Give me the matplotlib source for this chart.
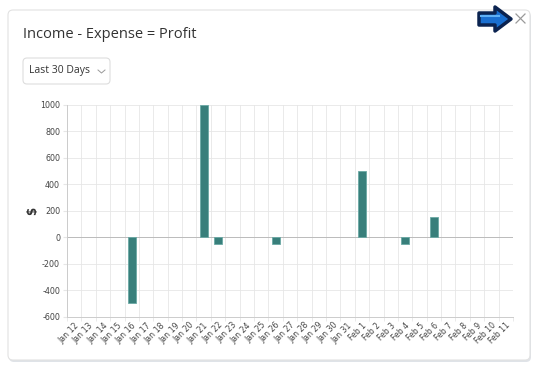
import matplotlib.pyplot as plt
from matplotlib.patches import FancyBboxPatch, Polygon
import numpy as np

dates = ["Jan 12", "Jan 13", "Jan 14", "Jan 15", "Jan 16", "Jan 17", "Jan 18",
         "Jan 19", "Jan 20", "Jan 21", "Jan 22", "Jan 23", "Jan 24", "Jan 25",
         "Jan 26", "Jan 27", "Jan 28", "Jan 29", "Jan 30", "Jan 31", "Feb 1",
         "Feb 2", "Feb 3", "Feb 4", "Feb 5", "Feb 6", "Feb 7", "Feb 8", "Feb 9",
         "Feb 10", "Feb 11"]
profit = [0, 0, 0, 0, -500, 0, 0, 0, 0, 1000, -50, 0, 0, 0, -50, 0, 0, 0, 0, 0,
          500, 0, 0, -50, 0, 150, 0, 0, 0, 0, 0]
yticks = [-600, -400, -200, 0, 200, 400, 600, 800, 1000]

W, H = 535, 372
fig = plt.figure(figsize=(W / 100, H / 100), dpi=100)
fig.patch.set_facecolor("white")

# card background with shadow
bg = fig.add_axes([0, 0, 1, 1])
bg.set_xlim(0, W)
bg.set_ylim(H, 0)
bg.axis("off")
bg.add_patch(FancyBboxPatch((9, 12), 522, 350, boxstyle="round,pad=0,rounding_size=5",
                            fc="#dfe3e8", ec="none", zorder=0))
bg.add_patch(FancyBboxPatch((8, 10), 522, 350, boxstyle="round,pad=0,rounding_size=5",
                            fc="white", ec="#e2e2e2", lw=0.8, zorder=1))
bg.text(23, 35, "Income - Expense = Profit", fontsize=10.5, color="#333333",
        family="Open Sans", va="center", ha="left", zorder=2)
# dropdown
bg.add_patch(FancyBboxPatch((23, 58), 87, 26, boxstyle="round,pad=0,rounding_size=4",
                            fc="white", ec="#dddddd", lw=0.8, zorder=2))
bg.text(29, 71, "Last 30 Days", fontsize=7.5, color="#333333", family="Open Sans",
        va="center", ha="left", zorder=3)
bg.plot([98, 101.5, 105], [70, 73, 70], color="#999999", lw=0.7, zorder=3)
# close x
bg.plot([516, 525], [14, 23], color="#999999", lw=0.9, zorder=3)
bg.plot([516, 525], [23, 14], color="#999999", lw=0.9, zorder=3)
# blue arrow
arrow = [(479, 13), (495, 13), (495, 7), (511, 19), (495, 31), (495, 25), (479, 25)]
bg.add_patch(Polygon(arrow, closed=True, fc="#1a6fd0", ec="#0b2350", lw=2.5,
                     joinstyle="round", zorder=4))
bg.plot([481, 499], [16, 16], color="#5fb0f5", lw=1.5, zorder=5)

ax = fig.add_axes([67 / W, 1 - 316.7 / H, (513 - 67) / W, (316.7 - 104.7) / H])
x = np.arange(len(dates))
edge_w = [0.6 if v != 0 else 0 for v in profit]
ax.bar(x, profit, width=0.55, color="#387f7b", edgecolor="#6aa9a5", lw=edge_w, zorder=3)
ax.set_xlim(-0.5, len(dates) - 0.5)
ax.set_ylim(-600, 1000)
ax.set_yticks(yticks)
ax.set_yticklabels([str(v) for v in yticks], fontsize=5.8, color="#444444")
ax.set_xticks(x)
ax.set_xticklabels(dates, rotation=45, ha="right", rotation_mode="anchor",
                   fontsize=5.6, color="#444444")
ax.set_xticks(np.arange(-0.5, len(dates)), minor=True)
ax.grid(True, which="minor", axis="x", color="#e6e6e6", lw=0.6)
ax.grid(True, which="major", axis="y", color="#e6e6e6", lw=0.6)
ax.tick_params(axis="x", which="major", length=0, pad=3)
ax.tick_params(axis="x", which="minor", length=3, color="#e6e6e6")
ax.tick_params(axis="y", length=3, color="#e6e6e6", pad=2)
ax.axhline(0, color="#bbbbbb", lw=0.7, zorder=2)
for s in ["top", "right"]:
    ax.spines[s].set_visible(False)
ax.spines["left"].set_color("#cccccc")
ax.spines["bottom"].set_color("#cccccc")
ax.spines["left"].set_linewidth(0.7)
ax.spines["bottom"].set_linewidth(0.7)
ax.set_ylabel("$", fontsize=8.5, fontweight="bold", color="#333333", labelpad=1)

fig.savefig("out.png", dpi=100)
